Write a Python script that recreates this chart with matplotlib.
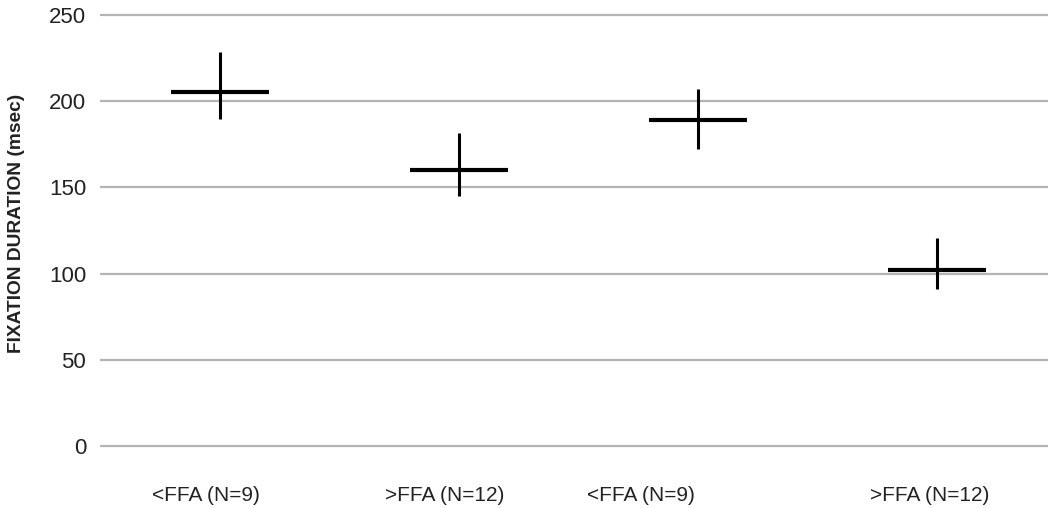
import matplotlib
matplotlib.use("Agg")
import matplotlib.pyplot as plt

plt.rcParams['font.family'] = ['Liberation Sans', 'DejaVu Sans']

groups = ['<FFA (N=9)', '>FFA (N=12)', '<FFA (N=9)', '>FFA (N=12)']
means = [205.5, 160.1, 189.3, 102.1]
upper = [228.7, 181.4, 206.9, 120.5]
lower = [189.7, 145.0, 172.1, 90.9]
yticks = [0, 50, 100, 150, 200, 250]

# label positions drift a little from the cross centres in the original
label_pos = [-0.06, 0.94, 1.76, 2.97]

fig = plt.figure(figsize=(10.48, 5.08), dpi=100)
ax = fig.add_axes([0.0954, 0.1118, 0.9046, 0.8689])

xs = list(range(len(groups)))
half = 0.205
ax.hlines(means, [x - half for x in xs], [x + half for x in xs],
          colors='black', linewidth=3.0, zorder=3)
ax.vlines(xs, lower, upper, colors='black', linewidth=2.2, zorder=3)

ax.set_xlim(-0.502, 3.465)
ax.set_ylim(-3, 253)
ax.set_yticks(yticks)
ax.set_yticklabels([str(v) for v in yticks], fontsize=16, color='#222222')
ax.yaxis.grid(True, color='#b4b4b4', linewidth=1.6)
ax.set_axisbelow(True)

ax.set_xticks(label_pos)
ax.set_xticklabels(groups, fontsize=15, color='#222222')
ax.tick_params(axis='x', length=0, pad=25)
ax.tick_params(axis='y', length=0, pad=10)

for s in ax.spines.values():
    s.set_visible(False)

fig.text(17 / 1048, 0.56, 'FIXATION DURATION (msec)', rotation=90,
         ha='center', va='center', fontsize=13.8, fontweight='bold',
         color='#222222')

fig.savefig('out.png', dpi=100)
